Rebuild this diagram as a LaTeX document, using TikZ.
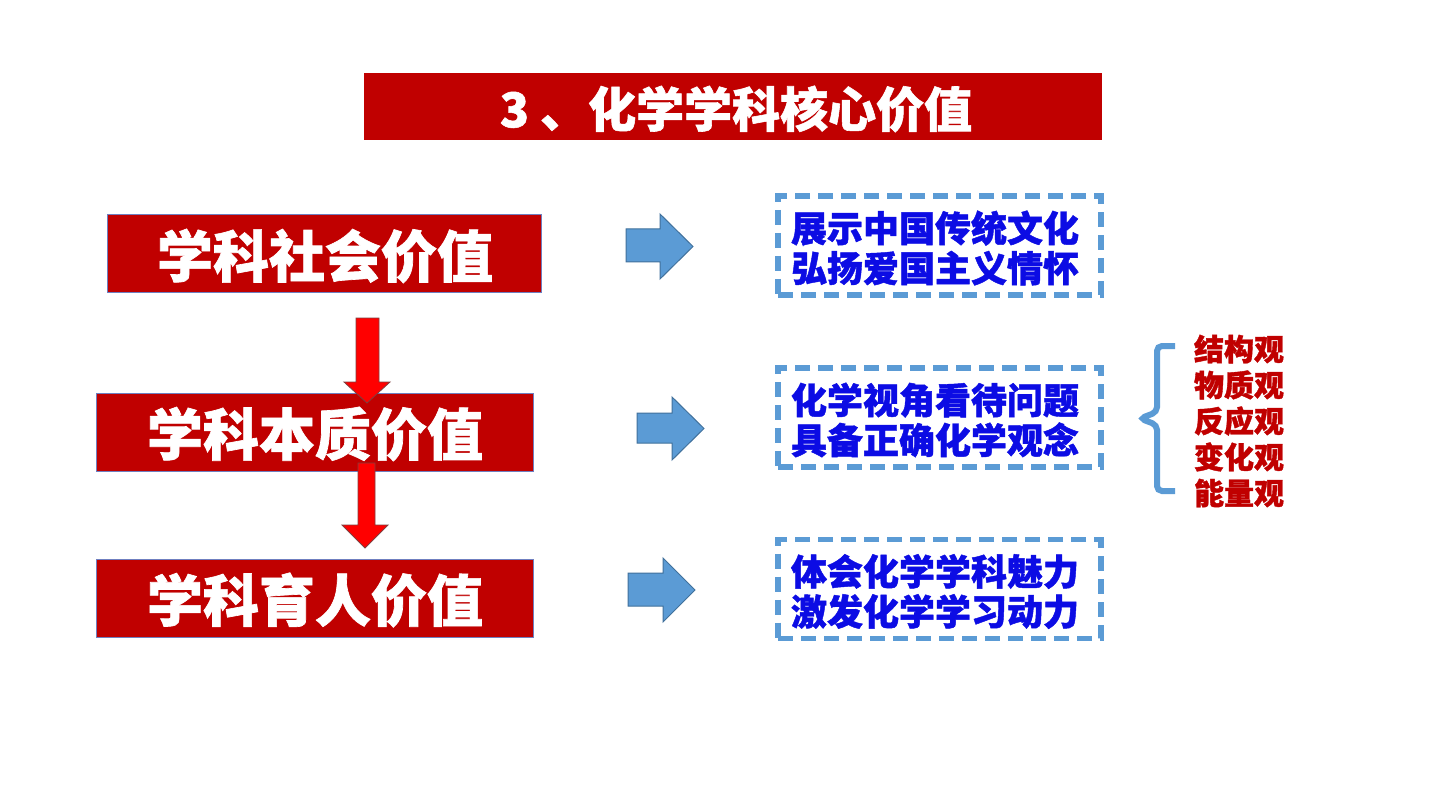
\documentclass[tikz,border=0pt]{standalone}
\usepackage{fontspec}
\setmainfont{Noto Sans CJK SC}
\newfontfamily\heavyfont{Noto Sans CJK SC}[BoldFeatures={FakeBold=1.2}]
\definecolor{dred}{HTML}{C00000}
\definecolor{lblue}{HTML}{5B9BD5}
\definecolor{lbluedk}{HTML}{41719C}
\definecolor{txtblue}{RGB}{12,12,228}
\definecolor{boxedge}{HTML}{6F7FC0}
\definecolor{redarrowedge}{HTML}{7F3F3F}
\tikzset{
  valbox/.style={fill=dred, draw=boxedge, line width=1pt, minimum width=434pt, minimum height=78pt, inner sep=0pt,
    text=white, font=\fontsize{56}{60}\selectfont\heavyfont\bfseries},
  dashbox/.style={draw=lblue, line width=5.5pt, dash pattern=on 15pt off 8pt, minimum width=323pt, minimum height=99pt,
    inner sep=0pt},
  dashtext/.style={text=txtblue, align=center, inner sep=0pt, font=\fontsize{36}{40}\selectfont\heavyfont\bfseries},
  bluearrow/.style={fill=lblue, draw=lbluedk, line width=1pt, line join=miter},
  redarrow/.style={fill=red, draw=redarrowedge, line width=0.8pt, line join=miter},
}
\begin{document}
\begin{tikzpicture}[x=1pt,y=-1pt]
\useasboundingbox (0,0) rectangle (1440,810);
\fill[white] (0,0) rectangle (1440,810);
% title
\node[fill=dred, minimum width=738pt, minimum height=67pt, inner sep=0pt] (titlebox) at (733,106.5) {};
\node[text=white, font=\fontsize{48}{50}\selectfont\heavyfont\bfseries, inner sep=0pt] (title) at (736,109) {3 、化学学科核心价值};
% left boxes
\node[valbox] (v1) at (324,254) {};
\node[text=white, font=\fontsize{56}{60}\selectfont\heavyfont\bfseries, inner sep=0pt] (v1t) at (325,256) {学科社会价值};
\node[valbox, minimum width=437pt] (v2) at (314.5,432) {};
\node[text=white, font=\fontsize{56}{60}\selectfont\heavyfont\bfseries, inner sep=0pt] (v2t) at (315,434) {学科本质价值};
\node[valbox, minimum width=437pt] (v3) at (314.5,598) {};
\node[text=white, font=\fontsize{56}{60}\selectfont\heavyfont\bfseries, inner sep=0pt] (v3t) at (315,600) {学科育人价值};
% red arrows (block arrows)
\draw[redarrow] (356,318) -- (379,318) -- (379,382) -- (390,382) -- (367,403) -- (344,382) -- (356,382) -- cycle;
\draw[redarrow] (358,463) -- (375,463) -- (375,525) -- (388,525) -- (365,548) -- (342,525) -- (358,525) -- cycle;
% blue arrows (block arrows)
\draw[bluearrow] (626,229) -- (660,229) -- (660,214) -- (693,246.5) -- (660,279) -- (660,262) -- (626,262) -- cycle;
\draw[bluearrow] (637,413) -- (672,413) -- (672,397) -- (704,428.5) -- (672,460) -- (672,443) -- (637,443) -- cycle;
\draw[bluearrow] (628,573) -- (663,573) -- (663,558) -- (695,590) -- (663,622) -- (663,606) -- (628,606) -- cycle;
% dashed boxes
\node[dashbox] (d1) at (939.5,245.5) {};
\node[dashtext] (d1t) at (935,248) {展示中国传统文化\\弘扬爱国主义情怀};
\node[dashbox] (d2) at (939.5,417.5) {};
\node[dashtext] (d2t) at (935,420) {化学视角看待问题\\具备正确化学观念};
\node[dashbox] (d3) at (939.5,589) {};
\node[dashtext] (d3t) at (935,591.5) {体会化学学科魅力\\激发化学学习动力};
% brace
\draw[lblue, line width=6pt, rounded corners=5pt, line cap=butt]
  (1175,346) -- (1157,346) -- (1157,412) -- (1140,418.5) -- (1157,425) -- (1157,491) -- (1175,491);
% red list
\node[text=dred, align=center, inner sep=0pt, font=\fontsize{30}{36}\selectfont\heavyfont\bfseries] (views) at (1239,421)
  {结构观\\物质观\\反应观\\变化观\\能量观};
\end{tikzpicture}
\end{document}
